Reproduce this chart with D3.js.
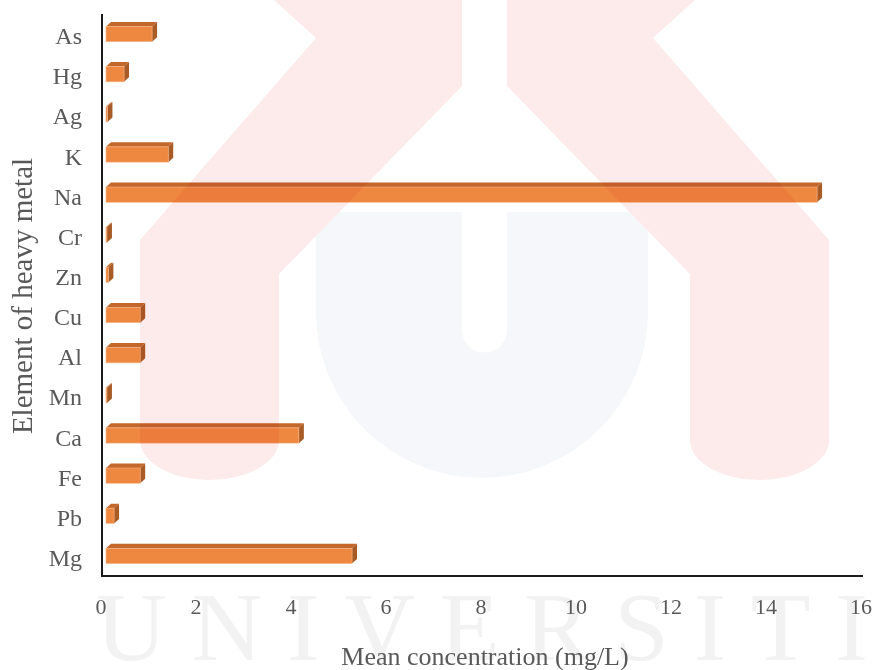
<!DOCTYPE html>
<html>
<head>
<meta charset="utf-8">
<script src="https://cdnjs.cloudflare.com/ajax/libs/d3/7.8.5/d3.min.js"></script>
<style>
  html, body { margin: 0; padding: 0; background: #fff; }
  svg { display: block; }
  .lbl { font-family: "Liberation Serif", "Times New Roman", serif; fill: #595959; }
</style>
</head>
<body>
<div id="chart"></div>
<script>
// mean concentration of each element (mg/L)
var categories = ["As", "Hg", "Ag", "K", "Na", "Cr", "Zn", "Cu", "Al", "Mn", "Ca", "Fe", "Pb", "Mg"];
var values = [0.97, 0.38, 0.03, 1.31, 14.97, 0.02, 0.05, 0.72, 0.72, 0.02, 4.06, 0.72, 0.17, 5.18];
var xTicks = [0, 2, 4, 6, 8, 10, 12, 14, 16];
var xTitle = "Mean concentration (mg/L)";
var yTitle = "Element of heavy metal";
var mark = "UNIVERSITI";

var W = 877, H = 670;
var pLeft = 102, pRight = 862, pTop = 14, pBottom = 576;
var dx = 5, dy = 4.5;   // depth of the 3d bars

var svg = d3.select("#chart").append("svg")
    .attr("width", W)
    .attr("height", H);

var x = d3.scaleLinear().domain([0, 16]).range([pLeft, pRight]);
var y = d3.scaleBand().domain(categories).range([pTop, pBottom]).paddingInner(0.62).paddingOuter(0.31);

// faint watermark text behind everything
svg.append("text")
    .attr("x", 96)
    .attr("y", 660)
    .attr("textLength", 772)
    .attr("lengthAdjust", "spacing")
    .style("font-family", "Liberation Serif, serif")
    .style("font-size", "98px")
    .style("fill", "#f2f2f2")
    .text(mark);

// bars
var g = svg.append("g");
categories.forEach(function(c, i) {
    var x0 = x(0) + 4, x1 = x(values[i]) + 4;
    var y0 = y(c), y1 = y(c) + y.bandwidth();
    g.append("path")
        .attr("d", "M" + x0 + "," + y0 + "L" + x1 + "," + y0 + "L" + (x1 + dx) + "," + (y0 - dy) + "L" + (x0 + dx) + "," + (y0 - dy) + "Z")
        .style("fill", "#c4672b");
    g.append("path")
        .attr("d", "M" + x1 + "," + y0 + "L" + (x1 + dx) + "," + (y0 - dy) + "L" + (x1 + dx) + "," + (y1 - dy) + "L" + x1 + "," + y1 + "Z")
        .style("fill", "#a95b26");
    g.append("rect")
        .attr("x", x0)
        .attr("y", y0)
        .attr("width", Math.max(0, x1 - x0))
        .attr("height", y1 - y0)
        .style("fill", "#ee8740")
        .style("stroke", "#f6b68a")
        .style("stroke-width", 0.6);
});

// logo watermark drawn over the bars (column cut out of the U)
var wm = svg.append("g").style("mix-blend-mode", "multiply");
wm.append("path")
    .attr("d", "M316,212 L648,212 L648,312 A166,166 0 0 1 316,312 Z M462,212 L507,212 L507,330 A22.5,22.5 0 0 1 462,330 Z")
    .attr("fill-rule", "evenodd")
    .style("fill", "#f5f7fa");
wm.append("path")
    .attr("d", "M274,0 L316,38 L140,240 L140,440 A69.5,40 0 0 0 279,440 L279,274 L462,86 L462,0 Z")
    .style("fill", "#fdeaea");
wm.append("path")
    .attr("d", "M695,0 L653,38 L829,240 L829,440 A69.5,40 0 0 1 690,440 L690,274 L507,86 L507,0 Z")
    .style("fill", "#fdeaea");

// axes lines
svg.append("line").attr("x1", pLeft).attr("x2", pLeft).attr("y1", pTop).attr("y2", pBottom + 1)
    .style("stroke", "#1a1a1a").style("stroke-width", 2);
svg.append("line").attr("x1", pLeft - 1).attr("x2", pRight + 1).attr("y1", pBottom).attr("y2", pBottom)
    .style("stroke", "#1a1a1a").style("stroke-width", 2);

// tick labels
svg.selectAll(".xt").data(xTicks).enter().append("text")
    .attr("class", "lbl")
    .attr("x", function(d) { return x(d) - 1; })
    .attr("y", 614)
    .attr("text-anchor", "middle")
    .style("font-size", "22px")
    .text(function(d) { return d; });

svg.selectAll(".yt").data(categories).enter().append("text")
    .attr("class", "lbl")
    .attr("x", 82)
    .attr("y", function(d) { return y(d) + y.bandwidth() / 2 + 10; })
    .attr("text-anchor", "end")
    .style("font-size", "24px")
    .text(function(d) { return d; });

// titles
svg.append("text").attr("class", "lbl")
    .attr("x", 485).attr("y", 665)
    .attr("text-anchor", "middle")
    .style("font-size", "26px")
    .text(xTitle);

svg.append("text").attr("class", "lbl")
    .attr("transform", "translate(32,296) rotate(-90)")
    .attr("text-anchor", "middle")
    .style("font-size", "29px")
    .text(yTitle);
</script>
</body>
</html>
